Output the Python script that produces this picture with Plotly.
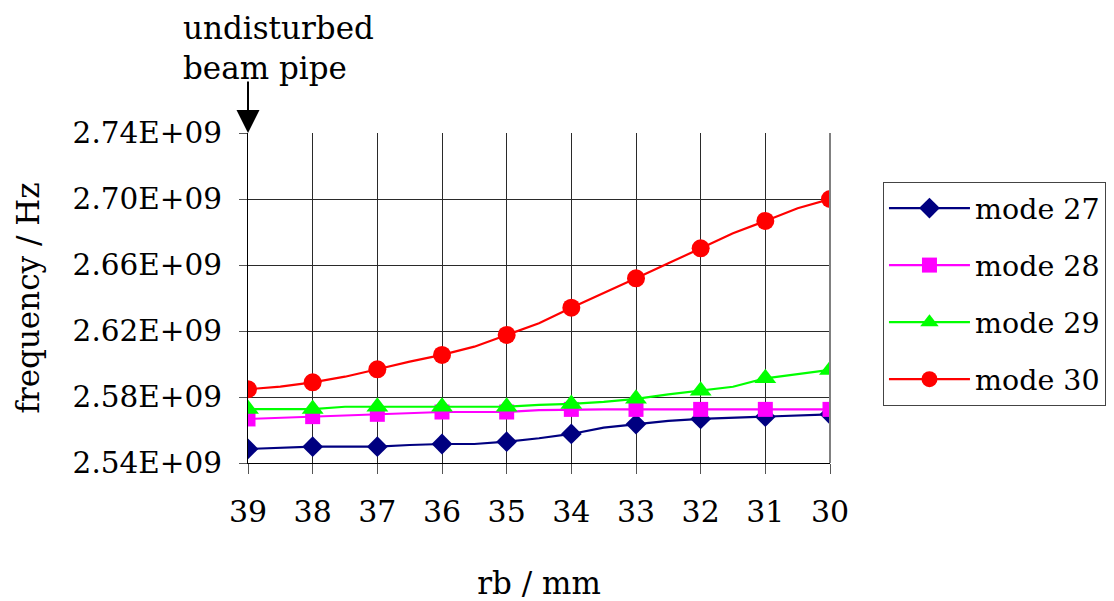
import plotly.graph_objects as go

# category positions (rb / mm)
rb_int = [39, 38, 37, 36, 35, 34, 33, 32, 31, 30]
rb_half = [39, 38.5, 38, 37.5, 37, 36.5, 36, 35.5, 35, 34.5, 34, 33.5, 33, 32.5, 32, 31.5, 31, 30.5, 30]

# frequencies in GHz read at integer positions (markers)
mode27 = [2.5485, 2.5499, 2.5499, 2.5515, 2.5529, 2.5576, 2.5636, 2.5667, 2.5681, 2.5695]
mode28 = [2.5667, 2.5681, 2.5695, 2.5709, 2.5709, 2.5725, 2.5725, 2.5725, 2.5725, 2.5725]
mode29 = [2.5727, 2.5727, 2.5741, 2.5741, 2.5741, 2.5758, 2.5789, 2.5838, 2.5913, 2.5964]
mode30 = [2.5847, 2.5889, 2.5968, 2.6055, 2.6176, 2.6341, 2.6519, 2.6701, 2.6867, 2.7000]

# line curves read at half-mm steps
mode27_line = [2.5485, 2.5492, 2.5499, 2.5499, 2.5499, 2.5509, 2.5515, 2.5515, 2.5529, 2.5550,
               2.5576, 2.5614, 2.5636, 2.5655, 2.5667, 2.5675, 2.5681, 2.5688, 2.5695]
mode28_line = [2.5667, 2.5674, 2.5681, 2.5688, 2.5695, 2.5702, 2.5709, 2.5709, 2.5709, 2.5721,
               2.5725, 2.5725, 2.5725, 2.5725, 2.5725, 2.5725, 2.5725, 2.5725, 2.5725]
mode29_line = [2.5727, 2.5727, 2.5727, 2.5741, 2.5741, 2.5741, 2.5741, 2.5741, 2.5741, 2.5752,
               2.5758, 2.5771, 2.5789, 2.5816, 2.5838, 2.5862, 2.5913, 2.5939, 2.5964]
mode30_line = [2.5847, 2.5863, 2.5889, 2.5923, 2.5968, 2.6014, 2.6055, 2.6105, 2.6176, 2.6247,
               2.6341, 2.6429, 2.6519, 2.6610, 2.6701, 2.6792, 2.6867, 2.6944, 2.7000]

names = ["mode 27", "mode 28", "mode 29", "mode 30"]
colors = ["#000080", "#FF00FF", "#00FF00", "#FF0000"]
symbols = ["diamond", "square", "triangle-up", "circle"]
msizes = [16, 15, 19, 18]

y_ticks = [2.54, 2.58, 2.62, 2.66, 2.70, 2.74]
y_ticktext = ["2.54E+09", "2.58E+09", "2.62E+09", "2.66E+09", "2.70E+09", "2.74E+09"]

FONT = "DejaVu Serif"

# page body has an 8px margin: layout coordinates = page coordinates - 8
L, T, W, H = 240, 125, 582, 330

fig = go.Figure()
marks = [mode27, mode28, mode29, mode30]
lines = [mode27_line, mode28_line, mode29_line, mode30_line]
for i in range(4):
    fig.add_trace(go.Scatter(x=rb_half, y=lines[i], mode="lines",
                             line=dict(color=colors[i], width=2.2),
                             showlegend=False, hoverinfo="skip", legendgroup=names[i]))
    fig.add_trace(go.Scatter(x=rb_int, y=marks[i], mode="markers",
                             marker=dict(color=colors[i], symbol=symbols[i], size=msizes[i]),
                             showlegend=False, legendgroup=names[i]))
    fig.add_trace(go.Scatter(x=[None], y=[None], mode="lines+markers", name=names[i],
                             line=dict(color=colors[i], width=2.2),
                             marker=dict(color=colors[i], symbol=symbols[i], size=msizes[i]),
                             legendgroup=names[i]))

fig.update_layout(
    width=1114, height=601,
    margin=dict(l=L, r=1114 - L - W, t=T, b=601 - T - H, autoexpand=False),
    paper_bgcolor="white", plot_bgcolor="white",
    font=dict(family=FONT, size=26, color="black"),
    xaxis=dict(range=[39, 30], tickvals=rb_int, ticktext=[str(v) for v in rb_int],
               tickfont=dict(size=30),
               showgrid=True, gridcolor="#2a2a2a", gridwidth=1,
               showline=True, linecolor="black", linewidth=1,
               ticks="outside", ticklen=10, tickcolor="#555555", ticklabelstandoff=12,
               zeroline=False,
               title=dict(text="rb / mm", standoff=44, font=dict(size=31))),
    yaxis=dict(range=[2.54, 2.74], tickvals=y_ticks, ticktext=y_ticktext,
               tickfont=dict(size=29.5),
               showgrid=True, gridcolor="#2a2a2a", gridwidth=1,
               showline=True, linecolor="black", linewidth=1, mirror=False,
               ticks="outside", ticklen=8, tickcolor="#555555", ticklabelstandoff=11,
               zeroline=False,
               title=dict(text="frequency / Hz", standoff=23, font=dict(size=31))),
    legend=dict(x=1.091, y=0.8515, xanchor="left", yanchor="top",
                bordercolor="#444444", borderwidth=1, bgcolor="white",
                font=dict(size=28.5), tracegroupgap=17, itemwidth=81),
    annotations=[
        dict(text="undisturbed<br>beam pipe", x=(173 - L) / W, y=(T + H + 0) / H,
             xref="paper", yref="paper", xanchor="left", yanchor="top",
             showarrow=False, align="left", font=dict(size=31)),
        dict(text="", x=39, y=2.74, xref="x", yref="y", ax=0, ay=-53,
             showarrow=True, arrowhead=2, arrowsize=2.3, arrowwidth=2, arrowcolor="black"),
    ],
)
# right border line of plot area (gray)
fig.add_shape(type="line", xref="paper", yref="paper", x0=1, x1=1, y0=0, y1=1,
              line=dict(color="#808080", width=2))

fig.write_html("out.html")
